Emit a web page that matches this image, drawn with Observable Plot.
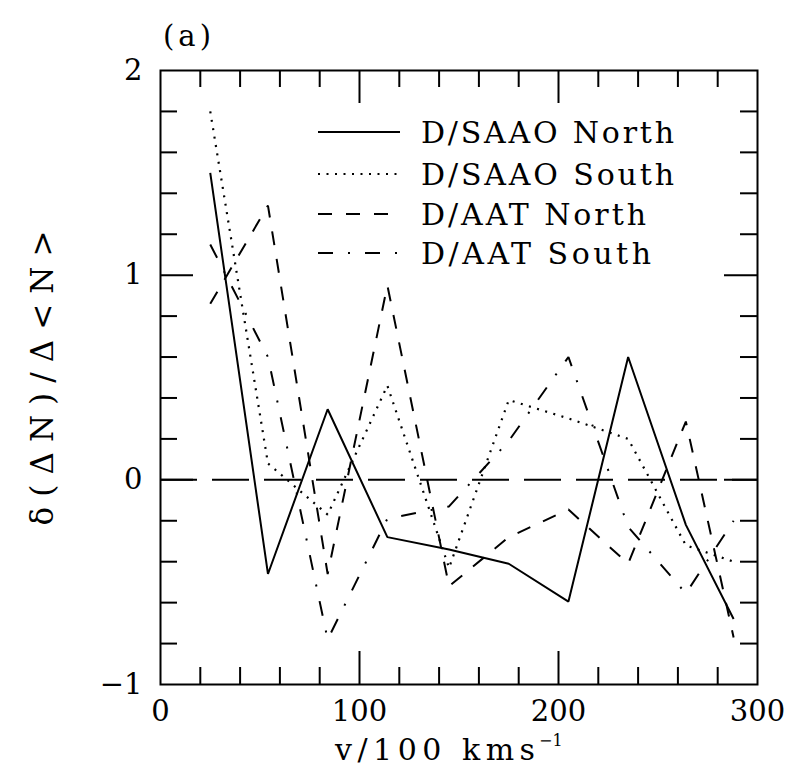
<!DOCTYPE html>
<html>
<head>
<meta charset="utf-8">
<script src="https://cdn.jsdelivr.net/npm/d3@7"></script>
<script src="https://cdn.jsdelivr.net/npm/@observablehq/plot@0.6"></script>
<style>
  body { margin: 0; background: #fff; }
  #wrap { position: relative; width: 790px; height: 772px; }
  #wrap svg.overlay { position: absolute; left: 0; top: 0; pointer-events: none; }
</style>
</head>
<body>
<div id="wrap"></div>
<script>
// ---- data ----
const velocity  = [25, 54, 84, 114, 145, 175, 205, 235, 264, 288];
const saaoNorth = [1.50, -0.46, 0.345, -0.28, -0.34, -0.41, -0.595, 0.60, -0.22, -0.68];
const saaoSouth = [1.80, 0.08, -0.17, 0.46, -0.43, 0.39, 0.30, 0.20, -0.32, -0.40];
const aatNorth  = [0.86, 1.34, -0.46, 0.95, -0.52, -0.28, -0.145, -0.41, 0.285, -0.77];
const aatSouth  = [1.15, 0.60, -0.78, -0.19, -0.13, 0.19, 0.60, -0.23, -0.555, -0.20];
const seriesNames = ["D/SAAO North", "D/SAAO South", "D/AAT North", "D/AAT South"];

const xTicks = [0, 100, 200, 300];
const xTickLabels = ["0", "100", "200", "300"];
const xMajorInner = [100, 200];
const xMinorTicks = [20, 40, 60, 80, 120, 140, 160, 180, 220, 240, 260, 280];
const yTicks = [-1, 0, 1, 2];
const yTickLabels = ["\u22121", "0", "1", "2"];
const yMajorInner = [0, 1];
const yMinorTicks = [-0.8, -0.6, -0.4, -0.2, 0.2, 0.4, 0.6, 0.8, 1.2, 1.4, 1.6, 1.8];

// ---- styles ----
const seriesValues = [saaoNorth, saaoSouth, aatNorth, aatSouth];
const seriesDash = [null, "2,6.5", "14,14", "15,15,2,15"];
const FONT = "DejaVu Serif";

const W = 790, H = 772;
const mL = 160, mR = 33, mT = 70, mB = 88;
const fw = W - mL - mR, fh = H - mT - mB;
const minorLen = 17, majorLen = 33;

const marks = [];
seriesValues.forEach((vals, k) => {
  const rows = velocity.map((v, i) => ({ v, val: vals[i] }));
  marks.push(Plot.line(rows, {
    x: "v", y: "val", stroke: "black", strokeWidth: k === 1 ? 2.2 : 2,
    strokeDasharray: seriesDash[k] || undefined,
    strokeLinecap: "butt", strokeLinejoin: "miter"
  }));
});
marks.push(Plot.ruleY([0], { stroke: "black", strokeWidth: 2, strokeDasharray: "37,15", strokeLinecap: "butt" }));
// inner ticks on all four sides
const tk = { stroke: "black", strokeWidth: 2 };
marks.push(Plot.ruleX(xMinorTicks, { ...tk, insetTop: fh - minorLen }));
marks.push(Plot.ruleX(xMinorTicks, { ...tk, insetBottom: fh - minorLen }));
marks.push(Plot.ruleX(xMajorInner, { ...tk, insetTop: fh - majorLen }));
marks.push(Plot.ruleX(xMajorInner, { ...tk, insetBottom: fh - majorLen }));
marks.push(Plot.ruleY(yMinorTicks, { ...tk, insetRight: fw - minorLen }));
marks.push(Plot.ruleY(yMinorTicks, { ...tk, insetLeft: fw - minorLen }));
marks.push(Plot.ruleY(yMajorInner, { ...tk, insetRight: fw - majorLen }));
marks.push(Plot.ruleY(yMajorInner, { ...tk, insetLeft: fw - majorLen }));
marks.push(Plot.frame({ stroke: "black", strokeWidth: 2 }));

const chart = Plot.plot({
  width: W, height: H,
  marginLeft: mL, marginRight: mR, marginTop: mT, marginBottom: mB,
  style: { fontFamily: FONT, fontSize: "29px", background: "white", color: "black" },
  x: { domain: [0, 300], ticks: xTicks, tickFormat: d => xTickLabels[xTicks.indexOf(d)],
       tickSize: 0, tickPadding: 16, label: null },
  y: { domain: [-1, 2], ticks: yTicks, tickFormat: d => yTickLabels[yTicks.indexOf(d)],
       tickSize: 0, tickPadding: 18, label: null },
  marks
});
document.getElementById("wrap").appendChild(chart);

// ---- overlay: panel label, axis titles, legend ----
const ov = d3.select("#wrap").append("svg").attr("class", "overlay")
  .attr("width", W).attr("height", H)
  .attr("font-family", FONT).attr("fill", "black");

ov.append("text").attr("x", 163).attr("y", 46).attr("font-size", 29)
  .attr("textLength", 48).attr("lengthAdjust", "spacing").text("(a)");

ov.append("text").attr("transform", "translate(53,378) rotate(-90)")
  .attr("text-anchor", "middle").attr("font-size", 31)
  .attr("textLength", 295).attr("lengthAdjust", "spacing")
  .text("\u03B4(\u0394N)/\u0394<N>");

const xt = ov.append("text").attr("x", 335).attr("y", 760).attr("font-size", 30)
  .attr("textLength", 200).attr("lengthAdjust", "spacing").text("v/100 kms");
const xtBox = xt.node().getBBox();
ov.append("text").attr("x", xtBox.x + xtBox.width + 4).attr("y", 746).attr("font-size", 16)
  .text("\u22121");

const legY = [132, 174, 214, 253];
const legLen = [253, 253, 225, 230];
seriesNames.forEach((name, k) => {
  const l = ov.append("line").attr("x1", 318).attr("x2", 400)
    .attr("y1", legY[k]).attr("y2", legY[k])
    .attr("stroke", "black").attr("stroke-width", k === 1 ? 2.2 : 2);
  if (seriesDash[k]) l.attr("stroke-dasharray", seriesDash[k]);
  ov.append("text").attr("x", 421).attr("y", legY[k] + 11).attr("font-size", 30)
    .attr("textLength", legLen[k]).attr("lengthAdjust", "spacing").text(name);
});
</script>
</body>
</html>
